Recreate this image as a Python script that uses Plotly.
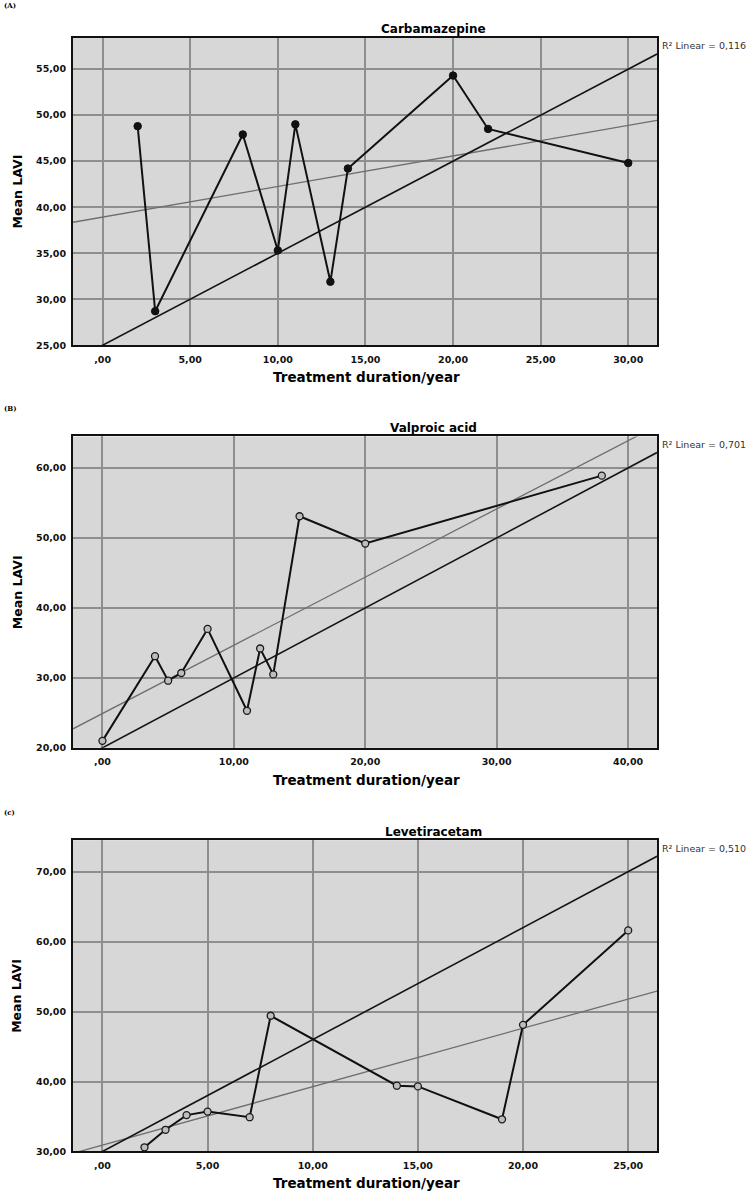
import numpy as np
import plotly.graph_objects as go

W, H = 749, 1198

# ---------------- data ----------------
titles = ["Carbamazepine", "Valproic acid", "Levetiracetam"]
panel_labels = ["(A)", "(B)", "(c)"]
r2_labels = ["R² Linear = 0,116", "R² Linear = 0,701", "R² Linear = 0,510"]

carb_x = [2, 3, 8, 10, 11, 13, 14, 20, 22, 30]
carb_y = [48.8, 28.7, 47.9, 35.3, 49.0, 31.9, 44.2, 54.3, 48.5, 44.8]

valp_x = [0, 4, 5, 6, 8, 11, 12, 13, 15, 20, 38]
valp_y = [21.0, 33.1, 29.6, 30.7, 37.0, 25.3, 34.2, 30.5, 53.1, 49.2, 58.9]

leve_x = [2, 3, 4, 5, 7, 8, 14, 15, 19, 20, 25]
leve_y = [30.6, 33.1, 35.2, 35.7, 34.9, 49.4, 39.4, 39.3, 34.6, 48.1, 61.6]

# reference (black) lines: slope, intercept
ref_slope = [1.0, 1.0, 1.6]
ref_intercept = [25.0, 20.0, 30.0]

x_ticks = [[0, 5, 10, 15, 20, 25, 30], [0, 10, 20, 30, 40], [0, 5, 10, 15, 20, 25]]
x_ticktext = [[",00", "5,00", "10,00", "15,00", "20,00", "25,00", "30,00"],
              [",00", "10,00", "20,00", "30,00", "40,00"],
              [",00", "5,00", "10,00", "15,00", "20,00", "25,00"]]
y_ticks = [[25, 30, 35, 40, 45, 50, 55], [20, 30, 40, 50, 60], [30, 40, 50, 60, 70]]
y_ticktext = [["25,00", "30,00", "35,00", "40,00", "45,00", "50,00", "55,00"],
              ["20,00", "30,00", "40,00", "50,00", "60,00"],
              ["30,00", "40,00", "50,00", "60,00", "70,00"]]
x_ranges = [[-1.69, 31.64], [-2.24, 42.2], [-1.40, 26.37]]
y_ranges = [[25, 58.43], [20, 64.5], [30, 74.5]]

x_title = "Treatment duration/year"
y_title = "Mean LAVI"

# ---------------- layout geometry (pixels) ----------------
plot_left, plot_right = 73, 657
plot_tops = [37.7, 438.3, 843.7]
plot_bottoms = [346.7, 751.0, 1156.3]

FONT = "DejaVu Sans"
BG = "#d7d7d7"
GRID = "#8e8e8e"

def px(x):
    return x / W

def py(y):
    return 1 - y / H

series_x = [carb_x, valp_x, leve_x]
series_y = [carb_y, valp_y, leve_y]

fig = go.Figure()
annotations = []
layout = {}

for i in range(3):
    sfx = "" if i == 0 else str(i + 1)
    xa, ya = "x" + sfx, "y" + sfx
    xr = x_ranges[i]
    # fit line (gray)
    coef = np.polyfit(series_x[i], series_y[i], 1)
    fx = np.array(xr)
    fig.add_trace(go.Scatter(x=fx, y=np.polyval(coef, fx), mode="lines",
                             line=dict(color="#6e6e6e", width=1.3),
                             xaxis=xa, yaxis=ya, showlegend=False, hoverinfo="skip"))
    # reference line (black)
    rx = np.array(xr)
    fig.add_trace(go.Scatter(x=rx, y=ref_slope[i] * rx + ref_intercept[i], mode="lines",
                             line=dict(color="#141414", width=1.6),
                             xaxis=xa, yaxis=ya, showlegend=False, hoverinfo="skip"))
    # data line
    if i == 0:
        marker = dict(symbol="circle", size=7.5, color="#111111",
                      line=dict(color="#111111", width=1))
    else:
        marker = dict(symbol="circle", size=7, color="#bdbdbd",
                      line=dict(color="#1a1a1a", width=1.3))
    fig.add_trace(go.Scatter(x=series_x[i], y=series_y[i], mode="lines+markers",
                             line=dict(color="#111111", width=2),
                             marker=marker, cliponaxis=False,
                             xaxis=xa, yaxis=ya, showlegend=False))

    layout["xaxis" + sfx] = dict(
        domain=[px(plot_left), px(plot_right)], anchor=ya, range=xr,
        tickvals=x_ticks[i], ticktext=x_ticktext[i],
        showgrid=True, gridcolor=GRID, gridwidth=1.6, zeroline=False,
        showline=True, linecolor="#111111", linewidth=2, mirror=True,
        ticks="outside", ticklen=4, tickcolor="rgba(0,0,0,0)",
        tickfont=dict(family=FONT, size=9.5, color="#111111", weight="bold"),
        fixedrange=True)
    layout["yaxis" + sfx] = dict(
        domain=[py(plot_bottoms[i]), py(plot_tops[i])], anchor=xa, range=y_ranges[i],
        tickvals=y_ticks[i], ticktext=y_ticktext[i],
        showgrid=True, gridcolor=GRID, gridwidth=1.6, zeroline=False,
        showline=True, linecolor="#111111", linewidth=2, mirror=True,
        ticks="outside", ticklen=3, tickcolor="rgba(0,0,0,0)",
        tickfont=dict(family=FONT, size=9.5, color="#111111", weight="bold"),
        fixedrange=True)

    top, bot = plot_tops[i], plot_bottoms[i]
    # chart title
    annotations.append(dict(text=titles[i], x=px(434), y=py(top - 8.5), xref="paper", yref="paper",
                            xanchor="center", yanchor="middle", showarrow=False,
                            font=dict(family=FONT, size=12, color="#000000", weight="bold")))
    # panel label
    annotations.append(dict(text=panel_labels[i], x=px(2), y=py(top - 32 if i == 0 else top - 28),
                            xref="paper", yref="paper", xanchor="left", yanchor="middle",
                            showarrow=False,
                            font=dict(family="DejaVu Serif", size=7, color="#000000", weight="bold")))
    # R2 label
    annotations.append(dict(text=r2_labels[i], x=px(660), y=py(top + 8), xref="paper", yref="paper",
                            xanchor="left", yanchor="middle", showarrow=False,
                            font=dict(family=FONT, size=9.5, color="#333333")))
    # axis titles
    annotations.append(dict(text=x_title, x=px(366), y=py(bot + 32), xref="paper", yref="paper",
                            xanchor="center", yanchor="middle", showarrow=False,
                            font=dict(family=FONT, size=13.5, color="#000000", weight="bold")))
    annotations.append(dict(text=y_title, x=px(17), y=py((top + bot) / 2), xref="paper", yref="paper",
                            xanchor="center", yanchor="middle", showarrow=False, textangle=-90,
                            font=dict(family=FONT, size=12.5, color="#000000", weight="bold")))

fig.update_layout(
    width=W, height=H, margin=dict(l=0, r=0, t=0, b=0),
    paper_bgcolor="white", plot_bgcolor=BG,
    annotations=annotations, showlegend=False,
    **layout)

fig.write_html("out.html", config={"displayModeBar": False})
